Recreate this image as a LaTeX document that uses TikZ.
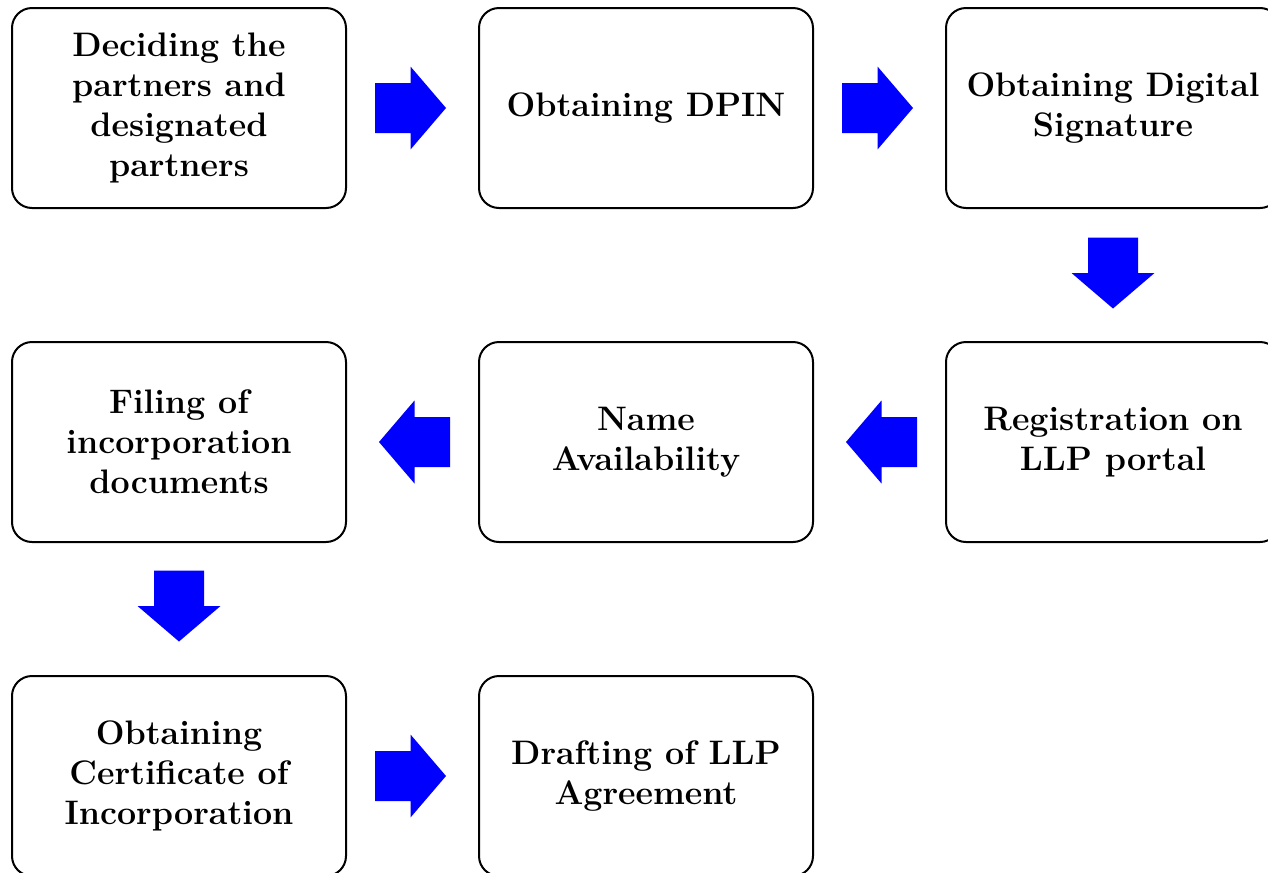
\documentclass[tikz,border=0pt]{standalone}
\usetikzlibrary{calc}
\definecolor{arrowblue}{RGB}{0,0,255}
\begin{document}
\begin{tikzpicture}[x=0.75pt,y=-0.75pt,
  box/.style={draw=black, line width=1.5pt, rounded corners=15pt,
    minimum width=250.5pt, minimum height=150pt, align=center,
    inner sep=0pt, font=\fontsize{25.5}{30}\selectfont\bfseries},
  barrow/.pic={\fill[arrowblue] (-35.5,-25) -- (0,-25) -- (0,-41.5) -- (35.5,0)
    -- (0,41.5) -- (0,25) -- (-35.5,25) -- cycle;}]
\useasboundingbox (0,0) rectangle (1268,872);
\clip (0,0) rectangle (1268,872);
\node[box] (a) at (179,108) {Deciding the\\partners and\\designated\\partners};
\node[box] (b) at (646,108) {Obtaining DPIN};
\node[box] (c) at (1113,108) {Obtaining Digital\\Signature};
\node[box] (d) at (1113,442) {Registration on\\LLP portal};
\node[box] (e) at (646,442) {Name\\Availability};
\node[box] (f) at (179,442) {Filing of\\incorporation\\documents};
\node[box] (g) at (179,776) {Obtaining\\Certificate of\\Incorporation};
\node[box] (h) at (646,776) {Drafting of LLP\\Agreement};
\pic at ($(a.east)!0.5!(b.west)+(-2,0)$) {barrow};
\pic at ($(b.east)!0.5!(c.west)+(-2,0)$) {barrow};
\pic[rotate=-90] at ($(c.south)!0.5!(d.north)+(0,-2)$) {barrow};
\pic[rotate=180] at ($(d.west)!0.5!(e.east)+(2,0)$) {barrow};
\pic[rotate=180] at ($(e.west)!0.5!(f.east)+(2,0)$) {barrow};
\pic[rotate=-90] at ($(f.south)!0.5!(g.north)+(0,-3)$) {barrow};
\pic at ($(g.east)!0.5!(h.west)+(-2,0)$) {barrow};
\end{tikzpicture}
\end{document}
